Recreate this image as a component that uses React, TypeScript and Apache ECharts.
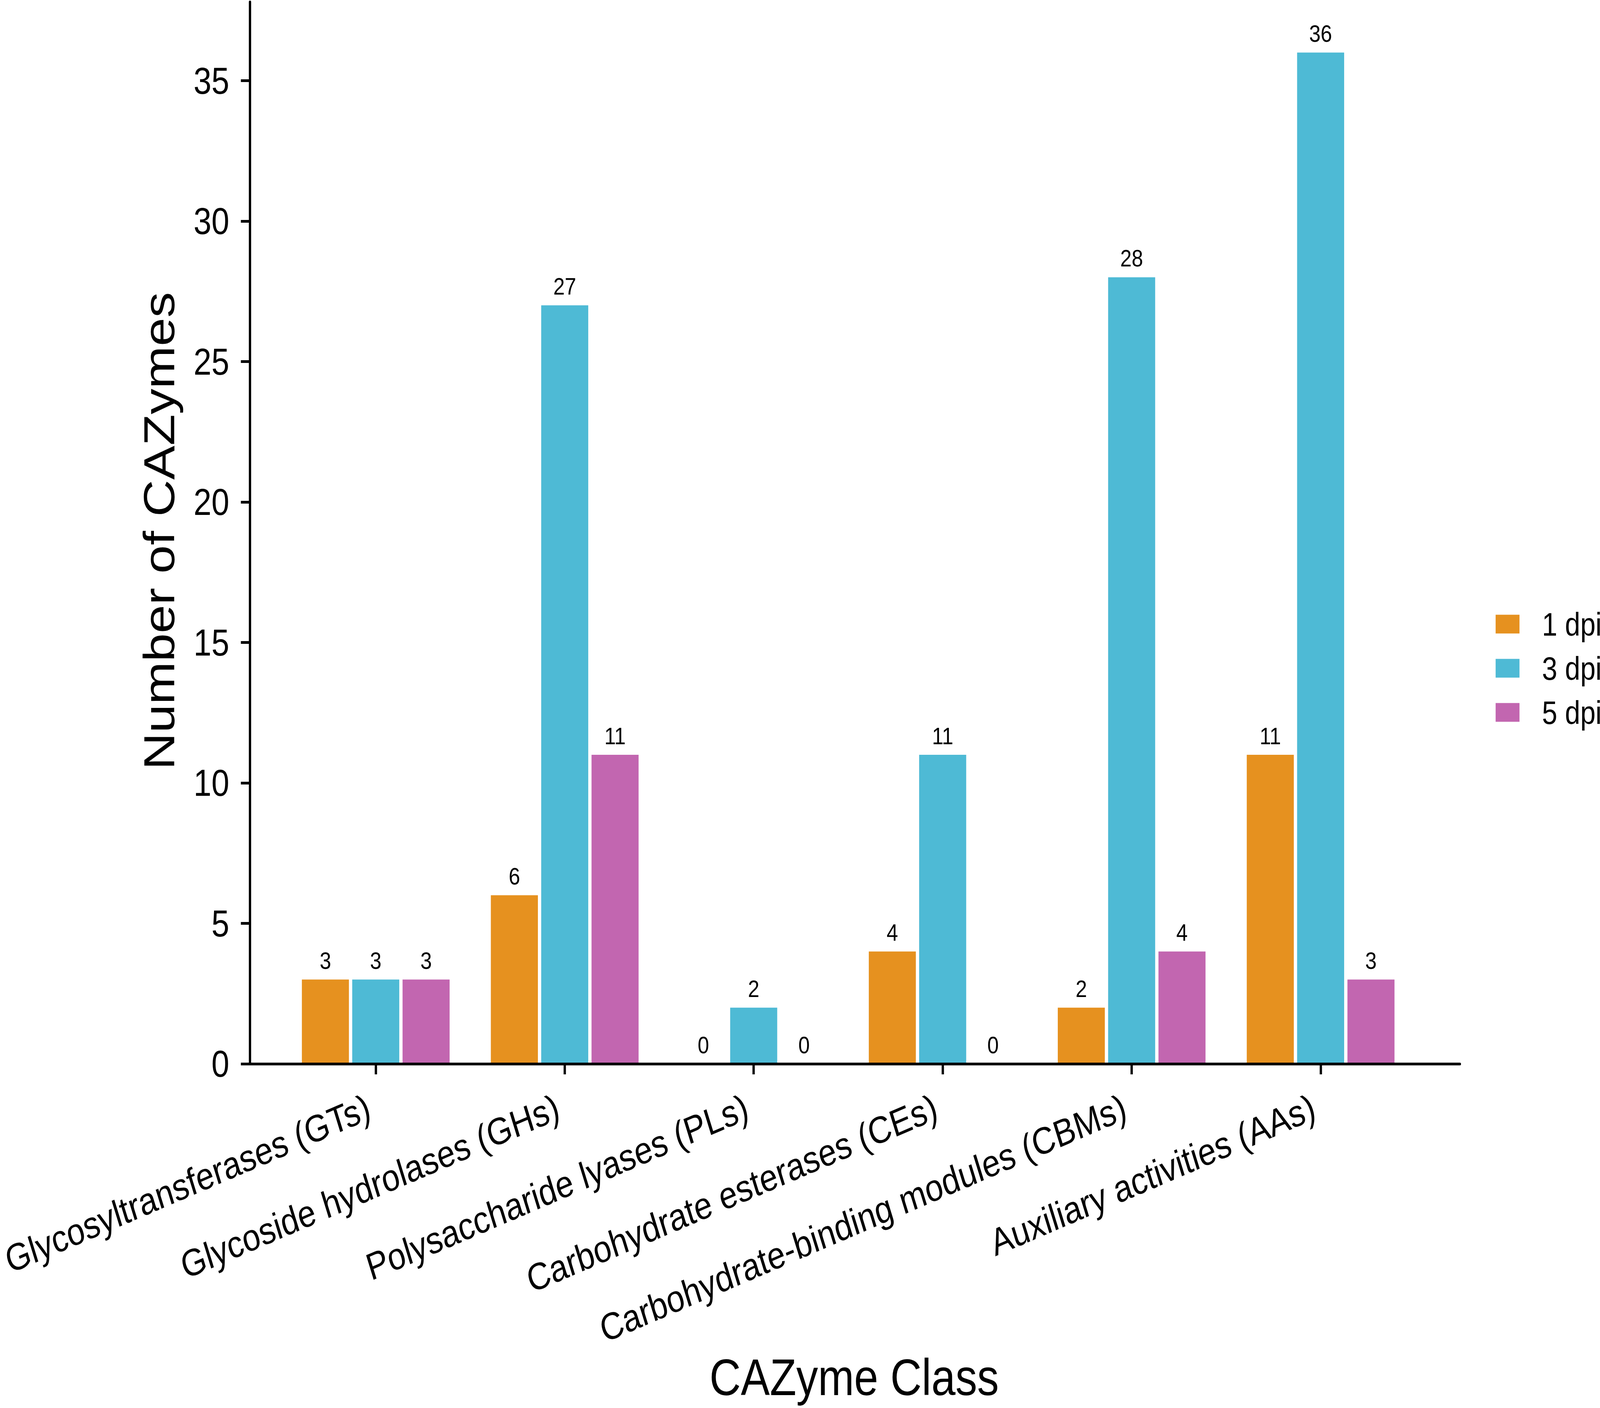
import React, { useEffect, useRef } from "react";
import * as echarts from "echarts";

const categories = [
  "Glycosyltransferases (GTs)",
  "Glycoside hydrolases (GHs)",
  "Polysaccharide lyases (PLs)",
  "Carbohydrate esterases (CEs)",
  "Carbohydrate-binding modules (CBMs)",
  "Auxiliary activities (AAs)",
];
const seriesNames = ["1 dpi", "3 dpi", "5 dpi"];
const dpi1 = [3, 6, 0, 4, 2, 11];
const dpi3 = [3, 27, 2, 11, 28, 36];
const dpi5 = [3, 11, 0, 0, 4, 3];
const yTicks = [0, 5, 10, 15, 20, 25, 30, 35];
const colors = ["#E6911F", "#4EBAD5", "#C266B0"];

const FONT = "'Liberation Sans', Arial, Helvetica, sans-serif";
const W = 4829;
const H = 3604;

export default function App() {
  const ref = useRef<HTMLDivElement>(null);
  const vw = typeof window !== "undefined" ? document.documentElement.clientWidth || window.innerWidth : W;
  const vh = typeof window !== "undefined" ? document.documentElement.clientHeight || window.innerHeight : H;
  const sx = Math.min(1, vw / W);
  const sy = Math.min(1, vh / H);

  useEffect(() => {
    document.body.style.margin = "0";
    document.body.style.overflow = "hidden";
    const chart = echarts.init(ref.current!, null, { renderer: "svg", width: W, height: H });
    const values = [dpi1, dpi3, dpi5];
    const top = 5;
    const bottom = 881;
    chart.setOption({
      animation: false,
      backgroundColor: "#ffffff",
      textStyle: { fontFamily: FONT },
      grid: [
        { left: 754, right: 423, top, bottom },
        { left: 848, right: 558, top, bottom },
      ],
      xAxis: [
        {
          gridIndex: 0,
          type: "value",
          min: 0,
          max: 1,
          offset: 1,
          z: 10,
          axisLine: { show: true, lineStyle: { color: "#000", width: 7 } },
          axisTick: { show: false },
          axisLabel: { show: false },
          splitLine: { show: false },
        },
        {
          gridIndex: 1,
          type: "category",
          data: categories,
          axisLine: { show: false },
          axisTick: {
            show: true,
            alignWithLabel: true,
            length: 27,
            lineStyle: { color: "#000", width: 7 },
          },
          axisLabel: {
            interval: 0,
            rotate: 20,
            margin: 100,
            padding: [0, 22, 0, 0],
            fontSize: 97,
            fontFamily: FONT,
            color: "#000",
          },
          splitLine: { show: false },
        },
      ],
      yAxis: [
        {
          gridIndex: 0,
          type: "value",
          min: 0,
          max: 37.8,
          z: 10,
          axisLine: { show: true, lineStyle: { color: "#000", width: 7 } },
          axisTick: {
            show: true,
            length: 27,
            lineStyle: { color: "#000", width: 7 },
            customValues: yTicks,
          },
          axisLabel: {
            margin: 62,
            fontSize: 97,
            fontFamily: FONT,
            color: "#000",
            customValues: yTicks,
          },
          splitLine: { show: false },
        },
        {
          gridIndex: 1,
          type: "value",
          min: 0,
          max: 37.8,
          show: false,
          splitLine: { show: false },
        },
      ],
      legend: {
        orient: "vertical",
        left: 4514,
        top: 1556,
        padding: 0,
        itemWidth: 72,
        itemHeight: 48,
        itemGap: 30,
        icon: "rect",
        data: seriesNames,
        textStyle: {
          fontSize: 83,
          fontFamily: FONT,
          color: "#000",
          padding: [0, 0, 0, 63],
        },
      },
      graphic: [
        {
          type: "text",
          x: 480,
          y: 1359,
          rotation: Math.PI / 2,
          style: {
            text: "Number of CAZymes",
            fontSize: 131,
            fontFamily: FONT,
            fill: "#000",
            align: "center",
            verticalAlign: "middle",
            textAlign: "center",
            textVerticalAlign: "middle",
          },
        },
        {
          type: "text",
          x: 2578,
          y: 3526,
          style: {
            text: "CAZyme Class",
            fontSize: 131,
            fontFamily: FONT,
            fill: "#000",
            align: "center",
            verticalAlign: "middle",
            textAlign: "center",
            textVerticalAlign: "middle",
          },
        },
      ],
      series: seriesNames.map((name, i) => ({
        name,
        type: "bar",
        xAxisIndex: 1,
        yAxisIndex: 1,
        data: values[i],
        barWidth: 142,
        barGap: "7%",
        itemStyle: { color: colors[i] },
        label: {
          show: true,
          position: "top",
          distance: 18,
          fontSize: 62,
          fontFamily: FONT,
          color: "#000",
        },
      })),
    });
    return () => chart.dispose();
  }, []);

  return (
    <div style={{ width: W * sx, height: H * sy, overflow: "hidden", background: "#fff" }}>
      <div
        ref={ref}
        style={{
          width: W,
          height: H,
          transform: `scale(${sx}, ${sy})`,
          transformOrigin: "0 0",
        }}
      />
    </div>
  );
}
